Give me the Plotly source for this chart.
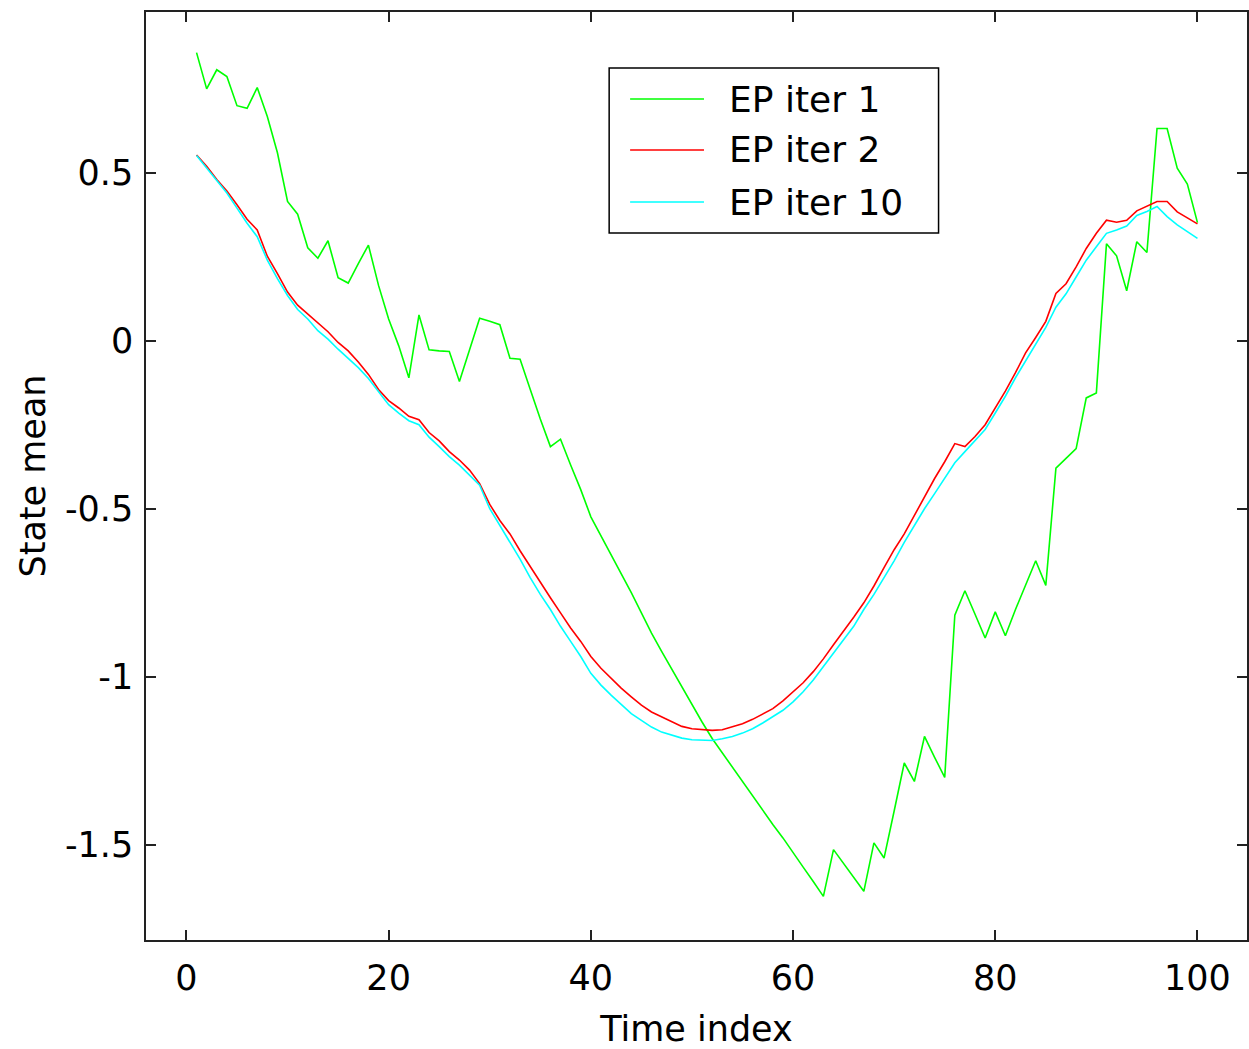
import plotly.graph_objects as go

time_index = list(range(1, 101))

ep_iter_1 = [
    0.858, 0.75, 0.807, 0.787, 0.70, 0.692, 0.754, 0.668, 0.56, 0.415,
    0.377, 0.277, 0.246, 0.298, 0.188, 0.172, 0.23, 0.285, 0.165, 0.065,
    -0.015, -0.11, 0.077, -0.027, -0.03, -0.032, -0.121, -0.027, 0.067, 0.058,
    0.048, -0.052, -0.055, -0.144, -0.233, -0.315, -0.293, -0.37, -0.443, -0.524,
    -0.58, -0.637, -0.694, -0.75, -0.81, -0.87, -0.925, -0.978, -1.03, -1.083,
    -1.135, -1.184, -1.227, -1.27, -1.313, -1.356, -1.40, -1.44, -1.48, -1.525,
    -1.567, -1.61, -1.654, -1.515, -1.556, -1.597, -1.639, -1.495, -1.54, -1.40,
    -1.257, -1.312, -1.178, -1.24, -1.30, -0.817, -0.744, -0.814, -0.885, -0.807,
    -0.878, -0.80, -0.727, -0.655, -0.728, -0.379, -0.35, -0.321, -0.17, -0.155,
    0.289, 0.253, 0.149, 0.295, 0.263, 0.632, 0.632, 0.514, 0.467, 0.352,
]

ep_iter_2 = [
    0.553, 0.52, 0.48, 0.446, 0.405, 0.362, 0.33, 0.252, 0.2, 0.145,
    0.106, 0.08, 0.053, 0.027, -0.005, -0.03, -0.063, -0.1, -0.145, -0.178,
    -0.2, -0.225, -0.235, -0.273, -0.298, -0.33, -0.355, -0.385, -0.425, -0.487,
    -0.535, -0.575, -0.625, -0.673, -0.72, -0.765, -0.81, -0.855, -0.895, -0.94,
    -0.975, -1.005, -1.034, -1.06, -1.085, -1.105, -1.12, -1.135, -1.148, -1.155,
    -1.158, -1.16, -1.158, -1.15, -1.14, -1.127, -1.11, -1.095, -1.072, -1.045,
    -1.018, -0.985, -0.947, -0.905, -0.865, -0.823, -0.78, -0.73, -0.675, -0.622,
    -0.575, -0.52, -0.465, -0.41, -0.36, -0.306, -0.315, -0.285, -0.25, -0.2,
    -0.15, -0.095, -0.036, 0.01, 0.058, 0.141, 0.17, 0.22, 0.275, 0.32,
    0.359, 0.353, 0.359, 0.387, 0.40, 0.415, 0.415, 0.384, 0.366, 0.348,
]

ep_iter_10 = [
    0.552, 0.515, 0.48, 0.44, 0.395, 0.35, 0.31, 0.24, 0.185, 0.135,
    0.093, 0.065, 0.03, 0.005, -0.025, -0.052, -0.08, -0.112, -0.15, -0.19,
    -0.215, -0.238, -0.25, -0.287, -0.315, -0.345, -0.37, -0.4, -0.43, -0.5,
    -0.55, -0.6, -0.65, -0.705, -0.755, -0.8, -0.85, -0.895, -0.94, -0.99,
    -1.025, -1.055, -1.083, -1.11, -1.13, -1.15, -1.165, -1.175, -1.183, -1.188,
    -1.19, -1.19, -1.185, -1.178, -1.168, -1.155, -1.138, -1.12, -1.1, -1.075,
    -1.045, -1.01, -0.97, -0.93, -0.89, -0.85, -0.8, -0.755, -0.705, -0.655,
    -0.6, -0.55, -0.5, -0.455, -0.41, -0.363, -0.33, -0.297, -0.264, -0.215,
    -0.165, -0.11, -0.06, -0.01, 0.04, 0.1, 0.14, 0.19, 0.24, 0.28,
    0.32, 0.33, 0.342, 0.373, 0.385, 0.40, 0.37, 0.345, 0.325, 0.305,
]

series_names = ["EP iter 1", "EP iter 2", "EP iter 10"]
series_colors = ["#00ff00", "#ff0000", "#00ffff"]

x_ticks = [0, 20, 40, 60, 80, 100]
y_ticks = [-1.5, -1, -0.5, 0, 0.5]
y_tick_text = ["-1.5", "-1", "-0.5", "0", "0.5"]

FONT = "DejaVu Sans"

# Figure geometry (pixels)
W, H = 1249, 1049
ML, MR, MT, MB = 146, 0, 12, 109
PW, PH = W - ML - MR, H - MT - MB


def px_x(x):
    return (x - ML) / PW


def px_y(y):
    return (H - MB - y) / PH


fig = go.Figure()
for name, ys, col in zip(series_names, [ep_iter_1, ep_iter_2, ep_iter_10], series_colors):
    fig.add_trace(go.Scatter(x=time_index, y=ys, mode="lines", name=name,
                             line=dict(color=col, width=1.6), showlegend=False))

axis_common = dict(
    showline=True, linecolor="#222222", linewidth=1.5, mirror="ticks",
    ticks="inside", ticklen=10, tickwidth=1.5, tickcolor="#222222",
    showgrid=False, zeroline=False,
    tickfont=dict(family=FONT, size=35, color="black"),
)

# Legend box drawn in paper coordinates (MATLAB-style legend)
shapes = [dict(type="rect", xref="paper", yref="paper",
               x0=px_x(610), x1=px_x(940), y0=px_y(233), y1=px_y(68),
               line=dict(color="black", width=1.5), fillcolor="white", layer="above")]
annotations = []
row_y = [99, 150, 202]
for name, col, ry in zip(series_names, series_colors, row_y):
    shapes.append(dict(type="line", xref="paper", yref="paper",
                       x0=px_x(631), x1=px_x(705), y0=px_y(ry), y1=px_y(ry),
                       line=dict(color=col, width=1.6), layer="above"))
    annotations.append(dict(xref="paper", yref="paper", x=px_x(728), y=px_y(ry),
                            xanchor="left", yanchor="middle", showarrow=False,
                            text=name, font=dict(family=FONT, size=36, color="black")))

fig.update_layout(
    width=W, height=H,
    margin=dict(l=ML, r=MR, t=MT, b=MB),
    paper_bgcolor="white", plot_bgcolor="white",
    font=dict(family=FONT, size=35, color="black"),
    xaxis=dict(range=[-4, 104.9], tickvals=x_ticks, ticklabelstandoff=6,
               title=dict(text="Time index", standoff=22, font=dict(family=FONT, size=35)),
               **axis_common),
    yaxis=dict(range=[-1.784, 0.979], tickvals=y_ticks, ticktext=y_tick_text,
               ticklabelstandoff=4,
               title=dict(text="State mean", standoff=9, font=dict(family=FONT, size=35)),
               **axis_common),
    shapes=shapes,
    annotations=annotations,
    showlegend=False,
)

fig.write_html("out.html")
